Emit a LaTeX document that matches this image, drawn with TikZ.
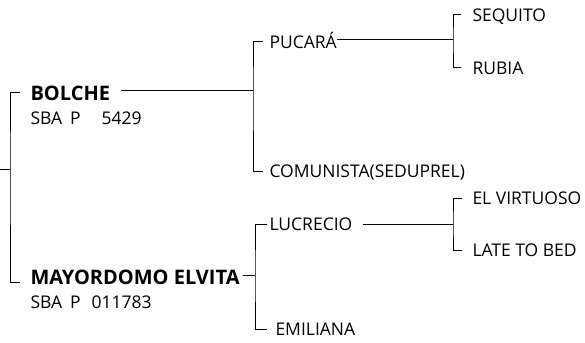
\documentclass[tikz,border=0pt]{standalone}
\usepackage{fontspec}
\setmainfont{Open Sans}
\usetikzlibrary{positioning}
\usetikzlibrary{calc}

\begin{document}
\begin{tikzpicture}[x=1pt, y=-1pt, line width=1pt,
    every node/.style={anchor=west, inner sep=0pt, text depth=0pt, text height=12.3pt, font=\fontsize{17.5}{20}\selectfont},
    sire/.style={text height=14pt, font=\bfseries\fontsize{20}{22}\selectfont}]
        % Fix the size of the picture
        \useasboundingbox (0,0) rectangle (585,342);

        % The two parents
        \node[sire] (bolche) at (30,93) {BOLCHE};
        \node (bolchereg) at (30,118) {SBA\hspace{8pt}P\hspace{21pt}5429};
        \node[sire] (elvita) at (30,277) {MAYORDOMO ELVITA};
        \node (elvitareg) at (30,302) {SBA\hspace{8pt}P\hspace{11pt}011783};

        % Second generation
        \node (pucara) at (269,42) {PUCARÁ};
        \node (comunista) at (269,171) {COMUNISTA(SEDUPREL)};
        \node (lucrecio) at (269,224) {LUCRECIO};
        \node (emiliana) at (275,329) {EMILIANA};

        % Third generation
        \node (sequito) at (472,15) {SEQUITO};
        \node (rubia) at (472,68) {RUBIA};
        \node (virtuoso) at (472,198) {EL VIRTUOSO};
        \node (latebed) at (472,250) {LATE TO BED};

        % Points where the brackets are joined
        \coordinate (root) at (0,169);
        \coordinate (rootbar) at (10,169);
        \coordinate (pucbar) at (253,91);
        \coordinate (seqbar) at (453,40);
        \coordinate (lucbar) at (255,275);
        \coordinate (virbar) at (453,224);

        % Brackets
        \draw (root) -- (rootbar);
        \draw ([xshift=-10pt]bolche.west) -| (rootbar) |- ([xshift=-10pt]elvita.west |- 0,282);
        \draw ([xshift=-6pt]pucara.west) -| (pucbar) |- ([xshift=-6pt]comunista.west);
        \draw ([xshift=-11pt]sequito.west) -| (seqbar) |- ([xshift=-11pt]rubia.west);
        \draw ([xshift=-2pt]lucrecio.west) -| (lucbar) |- ([xshift=-8pt]emiliana.west);
        \draw ([xshift=-10pt]virtuoso.west) -| (virbar) |- ([xshift=-10pt]latebed.west);

        % Lines from a horse to its offspring
        \draw ([xshift=10pt]bolche.east |- pucbar) -- (pucbar);
        \draw (pucara.east |- seqbar) -- (seqbar);
        \draw ([xshift=3pt]elvita.east |- lucbar) -- (lucbar);
        \draw ([xshift=10pt]lucrecio.east |- virbar) -- (virbar);
\end{tikzpicture}
\end{document}
